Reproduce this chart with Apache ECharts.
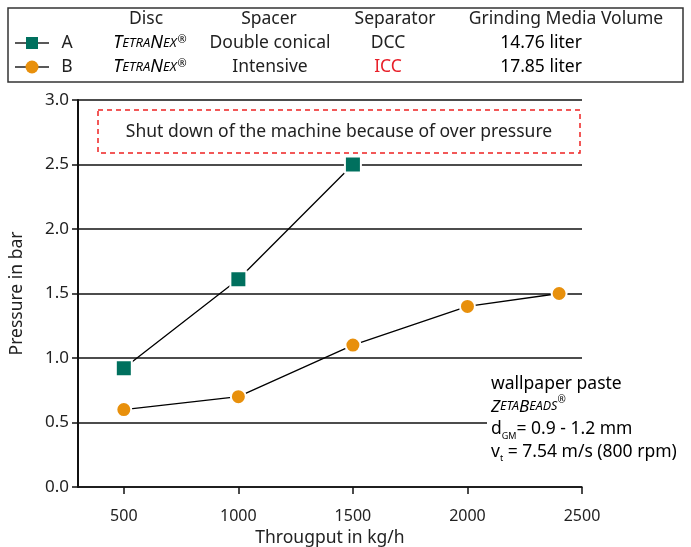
<!DOCTYPE html>
<html>
<head>
<meta charset="utf-8">
<script src="https://cdn.jsdelivr.net/npm/echarts@6/dist/echarts.min.js"></script>
<style>
  html, body { margin: 0; padding: 0; background: #fff; }
  #chart { width: 691px; height: 547px; }
</style>
</head>
<body>
<div id="chart"></div>
<script>
// data
var throughputA = [500, 1000, 1500];
var pressureA = [0.92, 1.61, 2.5];
var throughputB = [500, 1000, 1500, 2000, 2400];
var pressureB = [0.6, 0.7, 1.1, 1.4, 1.5];
var xTicks = [500, 1000, 1500, 2000, 2500];
var tableHeader = ['Disc', 'Spacer', 'Separator', 'Grinding Media Volume'];
var rowA = ['A', 'Double conical', 'DCC', '14.76'];
var rowB = ['B', 'Intensive', 'ICC', '17.85'];

var colors = ['#00705e', '#e8900c'];
var font = 'Noto Sans';
var fs = 17.5;

function pairs(xs, ys) {
    var out = [];
    for (var i = 0; i < xs.length; i++) out.push([xs[i], ys[i]]);
    return out;
}

// column centers of the legend table
var headX = [146, 269, 395, 566];
var cellX = [150, 270, 388, 541];
var rowY = [19, 43, 67];

function txt(x, y, text, extra) {
    var s = { x: x, y: y, text: text, font: fs + 'px "' + font + '"', fill: '#222',
              align: 'center', verticalAlign: 'middle' };
    for (var k in extra) s[k] = extra[k];
    return { type: 'text', z: 10, style: s };
}

var tetraRich = {
    b: { fontSize: 18, fontStyle: 'italic', fontFamily: font, color: '#222' },
    s: { fontSize: 13, fontStyle: 'italic', fontFamily: font, color: '#222' },
    r: { fontSize: 11, fontFamily: font, color: '#222', verticalAlign: 'top', padding: [0, 0, 6, 1] }
};

var graphics = [
    { type: 'rect', shape: { x: 8, y: 8, width: 675, height: 74 },
      style: { fill: '#fff', stroke: '#333', lineWidth: 1.5 } }
];
for (var i = 0; i < tableHeader.length; i++) {
    graphics.push(txt(headX[i], rowY[0], tableHeader[i]));
}
// row markers
graphics.push({ type: 'line', shape: { x1: 15, y1: rowY[1], x2: 49, y2: rowY[1] }, style: { stroke: '#222', lineWidth: 1.5 } });
graphics.push({ type: 'rect', shape: { x: 26, y: rowY[1] - 6, width: 12, height: 12 }, style: { fill: colors[0] } });
graphics.push({ type: 'line', shape: { x1: 15, y1: rowY[2], x2: 49, y2: rowY[2] }, style: { stroke: '#222', lineWidth: 1.5 } });
graphics.push({ type: 'circle', shape: { cx: 32, cy: rowY[2], r: 6.5 }, style: { fill: colors[1] } });
var rows = [rowA, rowB];
for (var r = 0; r < 2; r++) {
    var y = rowY[r + 1];
    var red = r === 1 ? '#e8202a' : '#222';
    graphics.push(txt(67, y, rows[r][0]));
    graphics.push({ type: 'text', z: 10, style: { x: cellX[0], y: y, align: 'center', verticalAlign: 'middle',
        text: '{b|T}{s|ETRA}{b|N}{s|EX}{r|®}', rich: tetraRich } });
    graphics.push(txt(cellX[1], y, rows[r][1]));
    graphics.push(txt(cellX[2], y, rows[r][2], { fill: red }));
    graphics.push({ type: 'text', z: 10, style: { x: cellX[3], y: y, align: 'center', verticalAlign: 'middle',
        text: '{v|' + rows[r][3] + '}{n| liter}',
        rich: { v: { fontSize: fs, fontFamily: font, color: red }, n: { fontSize: fs, fontFamily: font, color: '#222' } } } });
}
// shut down box
graphics.push({ type: 'rect', shape: { x: 98, y: 110, width: 482, height: 43 },
    style: { fill: '#fff', stroke: '#ee2222', lineWidth: 1.5, lineDash: [5, 4] }, z: 5 });
graphics.push(txt(339, 132, 'Shut down of the machine because of over pressure'));
// conditions text
graphics.push({ type: 'rect', shape: { x: 487, y: 372, width: 200, height: 92 }, style: { fill: '#fff' }, z: 5 });
graphics.push({ type: 'text', z: 10, style: { x: 491, y: 373, align: 'left', verticalAlign: 'top',
    text: '{n|wallpaper paste}\n{b|Z}{s|ETA}{b|B}{s|EADS}{r|®}\n{n|d}{sub|GM}{n|= 0.9 - 1.2 mm}\n{n|v}{sub|t}{n| = 7.54 m/s (800 rpm)}',
    rich: {
        n: { fontSize: fs, fontFamily: font, color: '#222', lineHeight: 22.5 },
        b: { fontSize: 17, fontStyle: 'italic', fontFamily: font, color: '#222', lineHeight: 22.5 },
        s: { fontSize: 12.5, fontStyle: 'italic', fontFamily: font, color: '#222', lineHeight: 22.5 },
        r: { fontSize: 10, fontFamily: font, color: '#222', verticalAlign: 'top', lineHeight: 22.5 },
        sub: { fontSize: 9, fontFamily: font, color: '#222', verticalAlign: 'bottom', lineHeight: 22.5, padding: [12, 0, 0, 0] }
    } } });

var myChart = echarts.init(document.getElementById('chart'));
var option = {
    animation: false,
    textStyle: { fontFamily: font },
    grid: { left: 78, top: 100, right: 109, bottom: 60, outerBoundsMode: 'none' },
    graphic: graphics,
    xAxis: {
        type: 'value',
        min: 300,
        max: 2500,
        name: 'Througput in kg/h',
        nameLocation: 'middle',
        nameGap: 36,
        nameTextStyle: { fontSize: fs, color: '#222' },
        axisLine: { show: true, lineStyle: { color: '#111', width: 1.5 } },
        axisTick: { show: true, length: 7, lineStyle: { color: '#111', width: 1.5 }, customValues: xTicks },
        axisLabel: { fontSize: 16, color: '#222', margin: 21, customValues: xTicks,
                     formatter: function (v) { return String(v); } },
        splitLine: { show: false }
    },
    yAxis: {
        type: 'value',
        min: 0,
        max: 3,
        interval: 0.5,
        name: 'Pressure in bar',
        nameLocation: 'middle',
        nameGap: 52,
        nameTextStyle: { fontSize: fs, color: '#222' },
        axisLine: { show: true, lineStyle: { color: '#111', width: 2 } },
        axisTick: { show: true, length: 6, lineStyle: { color: '#111', width: 1.5 } },
        axisLabel: { fontSize: 17, color: '#222', margin: 9, formatter: function (v) { return v.toFixed(1); } },
        splitLine: { show: true, lineStyle: { color: '#111', width: 1.5 } }
    },
    series: [
        {
            name: 'A', type: 'line', data: pairs(throughputA, pressureA),
            symbol: 'rect', symbolSize: 16,
            itemStyle: { color: colors[0], borderColor: '#fff', borderWidth: 2 },
            lineStyle: { color: '#000', width: 1.3 }
        },
        {
            name: 'B', type: 'line', data: pairs(throughputB, pressureB),
            symbol: 'circle', symbolSize: 15,
            itemStyle: { color: colors[1], borderColor: '#fff', borderWidth: 2 },
            lineStyle: { color: '#000', width: 1.3 }
        }
    ]
};
myChart.setOption(option);
</script>
</body>
</html>
